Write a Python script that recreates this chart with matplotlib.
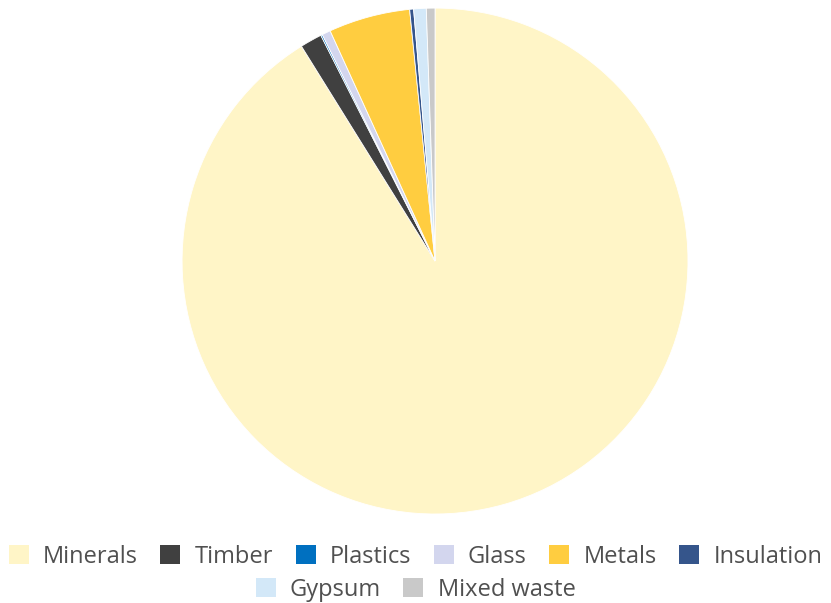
import matplotlib
matplotlib.use("Agg")
import matplotlib.pyplot as plt
from matplotlib.patches import Patch

categories = ["Minerals", "Timber", "Plastics", "Glass", "Metals", "Insulation", "Gypsum", "Mixed waste"]
values = [91.1, 1.4, 0.1, 0.55, 5.2, 0.25, 0.8, 0.55]
colors = ["#FFF5C7", "#404040", "#0070C0", "#D3D6EE", "#FFCD40", "#35558B", "#D3E8F8", "#C9C9C9"]

plt.rcParams['font.family'] = ['Open Sans', 'DejaVu Sans']

fig = plt.figure(figsize=(8.31, 6.03), dpi=100)
ax = fig.add_axes([0.219, 0.1476, 0.609, 0.839])
ax.pie(values, colors=colors, startangle=90, counterclock=False,
       wedgeprops=dict(edgecolor="white", linewidth=0.6))
ax.set_xlim(-1, 1)
ax.set_ylim(-1, 1)
ax.set_aspect("equal")
ax.axis("off")

handles = [Patch(facecolor=c, edgecolor="none") for c in colors]
kw = dict(frameon=False, fontsize=17, handlelength=0.85, handleheight=0.85,
          handletextpad=0.6, columnspacing=0.95, labelcolor="#505050",
          loc="center", borderpad=0, borderaxespad=0)
fig.legend(handles[:6], categories[:6], ncol=6, bbox_to_anchor=(0.5, 1 - 557/603), **kw)
fig.legend(handles[6:], categories[6:], ncol=2, bbox_to_anchor=(0.5, 1 - 590/603), **kw)

fig.savefig("out.png", dpi=100)
